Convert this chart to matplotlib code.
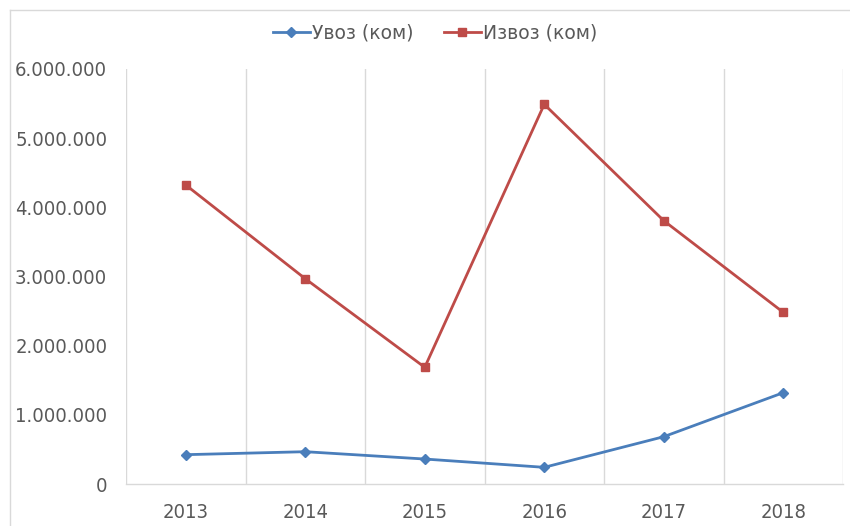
import matplotlib
matplotlib.use("Agg")
import matplotlib.pyplot as plt
from matplotlib.lines import Line2D
from matplotlib.ticker import FuncFormatter, MultipleLocator
from matplotlib import font_manager

years = ["2013", "2014", "2015", "2016", "2017", "2018"]
import_vals = [424000, 467000, 361000, 241000, 684000, 1320000]
export_vals = [4323000, 2968000, 1687000, 5489000, 3807000, 2482000]
series_labels = ["Увоз (ком)", "Извоз (ком)"]

text_color = "#595959"
grid_color = "#D9D9D9"
blue = "#4A7EBB"
red = "#BE4B48"

plt.rcParams["font.family"] = ["DejaVu Sans"]
tick_font = font_manager.FontProperties(family="DejaVu Sans", stretch="condensed", size=14.5)

fig = plt.figure(figsize=(8.5, 5.26), dpi=100)
ax = fig.add_axes([126 / 850, 1 - 484 / 526, (843 - 126) / 850, (484 - 69) / 526])

x = list(range(len(years)))
ax.plot(x, import_vals, color=blue, lw=2, marker="D", ms=5, label=series_labels[0])
ax.plot(x, export_vals, color=red, lw=2, marker="s", ms=6, label=series_labels[1])

ax.set_xlim(-0.5, len(years) - 0.5)
ax.set_ylim(0, 6000000)
ax.yaxis.set_major_locator(MultipleLocator(1000000))
ax.yaxis.set_major_formatter(FuncFormatter(lambda v, p: f"{int(v):,}".replace(",", ".")))
ax.set_xticks(x)
ax.set_xticklabels(years)

# vertical gridlines on category boundaries
for b in [i - 0.5 for i in range(len(years) + 1)]:
    ax.axvline(b, color=grid_color, lw=1, zorder=0)

for s in ["top", "right", "left"]:
    ax.spines[s].set_visible(False)
ax.spines["bottom"].set_color(grid_color)
ax.spines["bottom"].set_linewidth(1)
ax.tick_params(axis="both", length=0, colors=text_color)
ax.tick_params(axis="y", pad=13.5)
ax.tick_params(axis="x", pad=13.5)
for lab in ax.get_xticklabels() + ax.get_yticklabels():
    lab.set_fontproperties(tick_font)

leg = fig.legend(loc="center", bbox_to_anchor=(435 / 850, 1 - 33 / 526), ncol=2,
                 frameon=False, handlelength=2.0, columnspacing=1.6,
                 handletextpad=0.1, labelcolor=text_color,
                 prop=font_manager.FontProperties(family="DejaVu Sans", size=13.5))

# outer chart frame (top and left edges)
fig.add_artist(Line2D([10 / 850, 1.0], [1 - 10 / 526, 1 - 10 / 526],
                      transform=fig.transFigure, color=grid_color, lw=1))
fig.add_artist(Line2D([10 / 850, 10 / 850], [0.0, 1 - 10 / 526],
                      transform=fig.transFigure, color=grid_color, lw=1))

fig.savefig("out.png", dpi=100, facecolor="white")
